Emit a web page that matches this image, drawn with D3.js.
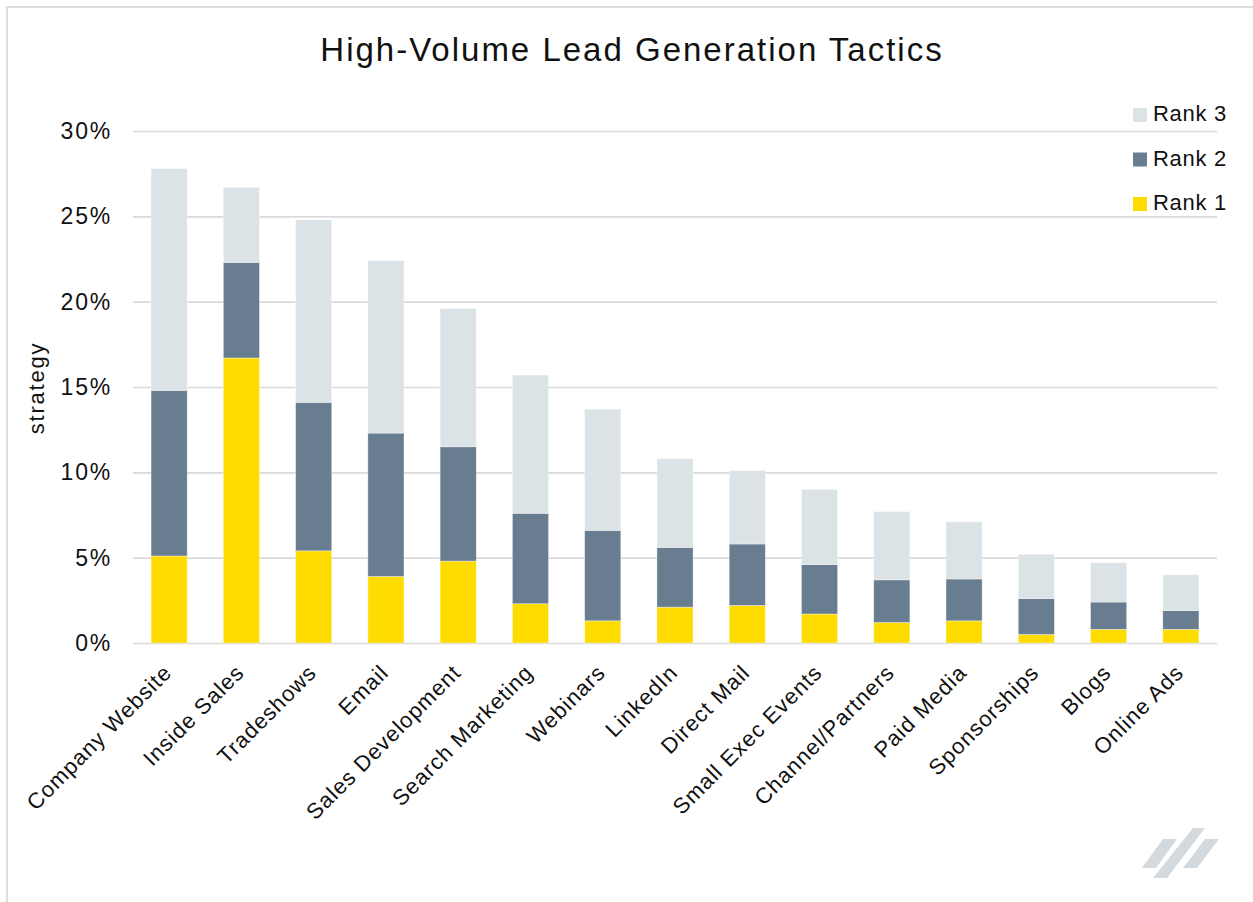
<!DOCTYPE html>
<html>
<head>
<meta charset="utf-8">
<script src="https://cdn.jsdelivr.net/npm/d3@7"></script>
<style>
  body { margin: 0; background: #fff; }
  #chart { width: 1253px; height: 902px; }
  text { font-family: "Liberation Sans", Arial, sans-serif; fill: #111; }
</style>
</head>
<body>
<div id="chart"></div>
<script>
// chart data (percent of respondents)
var tactics = ["Company Website", "Inside Sales", "Tradeshows", "Email", "Sales Development",
    "Search Marketing", "Webinars", "LinkedIn", "Direct Mail", "Small Exec Events",
    "Channel/Partners", "Paid Media", "Sponsorships", "Blogs", "Online Ads"];
var rank1 = [5.1, 16.7, 5.4, 3.9, 4.8, 2.3, 1.3, 2.1, 2.2, 1.7, 1.2, 1.3, 0.5, 0.8, 0.8];
var rank2 = [9.7, 5.6, 8.7, 8.4, 6.7, 5.3, 5.3, 3.5, 3.6, 2.9, 2.5, 2.45, 2.1, 1.6, 1.1];
var rank3 = [13.0, 4.4, 10.7, 10.1, 8.1, 8.1, 7.1, 5.2, 4.3, 4.4, 4.0, 3.35, 2.6, 2.3, 2.1];
var seriesNames = ["Rank 1", "Rank 2", "Rank 3"];
var yTicks = [0, 5, 10, 15, 20, 25, 30];

var colors = {"Rank 1": "#ffdc00", "Rank 2": "#687d8f", "Rank 3": "#dce3e6"};

// set the dimensions and margins of the graph
var margin = {top: 131, right: 36, bottom: 259, left: 133},
    width = 1253 - margin.left - margin.right,
    height = 902 - margin.top - margin.bottom;

var svg = d3.select("#chart").append("svg")
    .attr("width", 1253)
    .attr("height", 902);

// outer frame (only top/left edges visible)
svg.append("rect")
    .attr("x", 7).attr("y", 7)
    .attr("width", 1300).attr("height", 1000)
    .attr("fill", "none")
    .attr("stroke", "#dcdcdc")
    .attr("stroke-width", 2);

// title
svg.append("text")
    .attr("x", 632)
    .attr("y", 61)
    .attr("text-anchor", "middle")
    .style("font-size", "33px")
    .style("letter-spacing", "2px")
    .text("High-Volume Lead Generation Tactics");

var g = svg.append("g")
    .attr("transform", "translate(" + margin.left + "," + margin.top + ")");

// set the ranges
var x = d3.scaleBand().domain(tactics).range([0, width]).paddingInner(0.5).paddingOuter(0.25);
var y = d3.scaleLinear().domain([0, 30]).range([height, 0]);

// gridlines + y labels
var yAxis = g.append("g")
    .call(d3.axisLeft(y).tickValues(yTicks).tickSize(-width).tickPadding(21)
        .tickFormat(function(d) { return d + "%"; }));
yAxis.select(".domain").remove();
yAxis.selectAll(".tick line").attr("stroke", "#d9d9d9").attr("stroke-width", 1.6);
yAxis.selectAll(".tick text")
    .style("font-size", "23px")
    .style("letter-spacing", "1.8px")
    .style("font-family", "'Liberation Sans', Arial, sans-serif")
    .attr("fill", "#111");

// stack the data
var rows = tactics.map(function(t, i) {
    return {tactic: t, "Rank 1": rank1[i], "Rank 2": rank2[i], "Rank 3": rank3[i]};
});
var stacked = d3.stack().keys(seriesNames)(rows);

g.selectAll(".series")
    .data(stacked)
    .enter().append("g")
    .attr("class", "series")
    .attr("fill", function(d) { return colors[d.key]; })
    .selectAll("rect")
    .data(function(d) { return d; })
    .enter().append("rect")
    .attr("x", function(d) { return x(d.data.tactic); })
    .attr("y", function(d) { return y(d[1]); })
    .attr("width", x.bandwidth())
    .attr("height", function(d) { return y(d[0]) - y(d[1]); })
    .attr("stroke", "#ffffff")
    .attr("stroke-opacity", 0.45)
    .attr("stroke-width", 0.8);

// x labels
var xAxis = g.append("g")
    .attr("transform", "translate(0," + height + ")")
    .call(d3.axisBottom(x).tickSize(0).tickPadding(0));
xAxis.select(".domain").remove();
xAxis.selectAll(".tick text")
    .attr("text-anchor", "end")
    .attr("x", 0).attr("y", 0).attr("dy", null)
    .attr("transform", "translate(4,31) rotate(-45)")
    .style("font-size", "22px")
    .style("letter-spacing", "1px")
    .style("font-family", "'Liberation Sans', Arial, sans-serif")
    .attr("fill", "#111");

// y axis title
svg.append("text")
    .attr("transform", "translate(44,388) rotate(-90)")
    .attr("text-anchor", "middle")
    .style("font-size", "22px")
    .style("letter-spacing", "1.8px")
    .text("strategy");

// legend
var legend = svg.append("g").attr("transform", "translate(1133,108)");
var legendItems = legend.selectAll(".legend-item")
    .data(seriesNames.slice().reverse())
    .enter().append("g")
    .attr("class", "legend-item")
    .attr("transform", function(d, i) { return "translate(0," + (i * 44.5) + ")"; });
legendItems.append("rect")
    .attr("width", 14).attr("height", 14)
    .attr("fill", function(d) { return colors[d]; });
legendItems.append("text")
    .attr("x", 20).attr("y", 13)
    .style("font-size", "22px")
    .style("letter-spacing", "0.7px")
    .text(function(d) { return d; });

// logo mark in the corner
var logo = svg.append("g").attr("fill", "#d3d9dd");
var slashes = [
    [[1142, 868], [1156, 868], [1177, 839], [1163, 839]],
    [[1153, 878], [1167, 878], [1205, 828], [1193, 828]],
    [[1183, 868], [1197, 868], [1219, 839], [1205, 839]]
];
logo.selectAll("path")
    .data(slashes)
    .enter().append("path")
    .attr("d", function(d) { return d3.line()(d) + "Z"; });
</script>
</body>
</html>
